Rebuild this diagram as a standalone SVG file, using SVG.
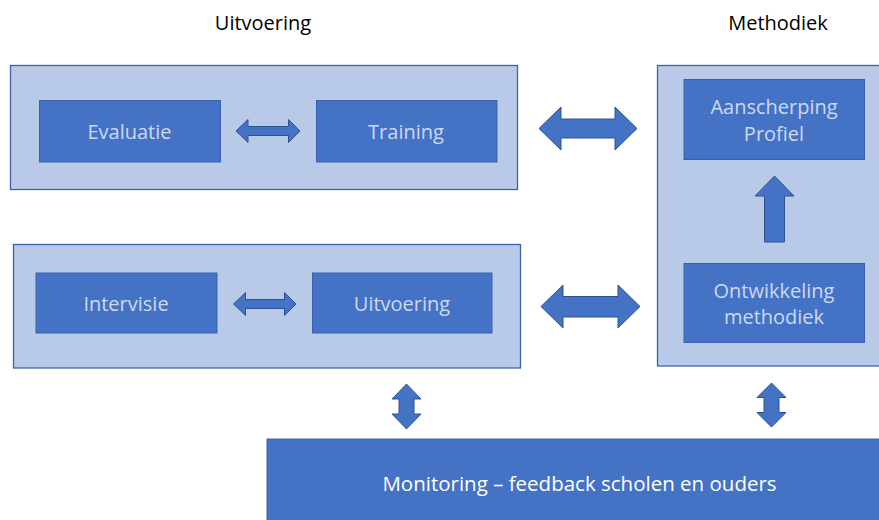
<svg xmlns="http://www.w3.org/2000/svg" width="879" height="520" viewBox="0 0 879 520">
<style>
.bg{fill:#ffffff}
.cont{fill:#B9CAE8;stroke:#3E64A8;stroke-width:1.3}
.box{fill:#4472C4;stroke:#3A62AC;stroke-width:1}
.arr{fill:#4472C4;stroke:#2F528F;stroke-width:1}
.t{font-family:"Open Sans","Liberation Sans",sans-serif;font-size:20px;text-anchor:middle;dominant-baseline:central}
.lt{fill:#CDD9F0}
.wt{fill:#ffffff;font-size:20.5px}
.title{font-family:"Open Sans","Liberation Sans",sans-serif;font-size:20px;fill:#000000;text-anchor:middle;dominant-baseline:central}
</style>
<rect class="bg" x="0" y="0" width="879" height="520"/>
<g id="titles">
<text class="title" x="263" y="22">Uitvoering</text>
<text class="title" x="778" y="22">Methodiek</text>
</g>
<g id="container-top">
<rect class="cont" x="10.5" y="65.5" width="507" height="124"/>
</g>
<g id="container-bottom">
<rect class="cont" x="13.5" y="244.5" width="507" height="123.5"/>
</g>
<g id="container-right">
<rect class="cont" x="657.5" y="65.5" width="230" height="300.5"/>
</g>
<g id="evaluatie">
<rect class="box" x="39.5" y="100.5" width="181" height="61.5"/>
<text class="t lt" x="129.5" y="131">Evaluatie</text>
</g>
<g id="training">
<rect class="box" x="316.5" y="100.5" width="180.5" height="61.5"/>
<text class="t lt" x="406" y="131">Training</text>
</g>
<g id="intervisie">
<rect class="box" x="36" y="273" width="181" height="60"/>
<text class="t lt" x="126" y="303">Intervisie</text>
</g>
<g id="uitvoering">
<rect class="box" x="312.5" y="273" width="179.5" height="60"/>
<text class="t lt" x="402" y="303">Uitvoering</text>
</g>
<g id="aanscherping">
<rect class="box" x="684" y="79.5" width="180.5" height="80"/>
<text class="t lt" x="774" y="106">Aanscherping</text>
<text class="t lt" x="774" y="133">Profiel</text>
</g>
<g id="ontwikkeling">
<rect class="box" x="684" y="263.5" width="180.5" height="79"/>
<text class="t lt" x="774" y="290">Ontwikkeling</text>
<text class="t lt" x="774" y="316">methodiek</text>
</g>
<g id="monitoring">
<rect class="box" x="267" y="439" width="620" height="90"/>
<text class="t wt" x="579.5" y="483">Monitoring – feedback scholen en ouders</text>
</g>
<g id="connectors">
<polygon class="arr" points="236,131 248,119.5 248,126.5 288.5,126.5 288.5,119.5 300,131 288.5,142.5 288.5,135.5 248,135.5 248,142.5"/>
<polygon class="arr" points="233.5,304 245.5,292.5 245.5,299.5 284.5,299.5 284.5,292.5 296,304 284.5,315.5 284.5,308.5 245.5,308.5 245.5,315.5"/>
<polygon class="arr" points="539,128.5 561,107 561,119 615,119 615,107 637,128.5 615,150 615,138 561,138 561,150"/>
<polygon class="arr" points="541,306.5 563,285 563,296.5 618,296.5 618,285 640,306.5 618,328 618,317 563,317 563,328"/>
<polygon class="arr" points="774.5,176 794,196 784.5,196 784.5,242 764.5,242 764.5,196 755,196"/>
<polygon class="arr" points="406.5,384 421,399 414,399 414,414 421,414 406.5,429 392,414 399,414 399,399 392,399"/>
<polygon class="arr" points="771.5,383 786,397.5 779,397.5 779,412.5 786,412.5 771.5,427 757,412.5 764,412.5 764,397.5 757,397.5"/>
</g>
</svg>
